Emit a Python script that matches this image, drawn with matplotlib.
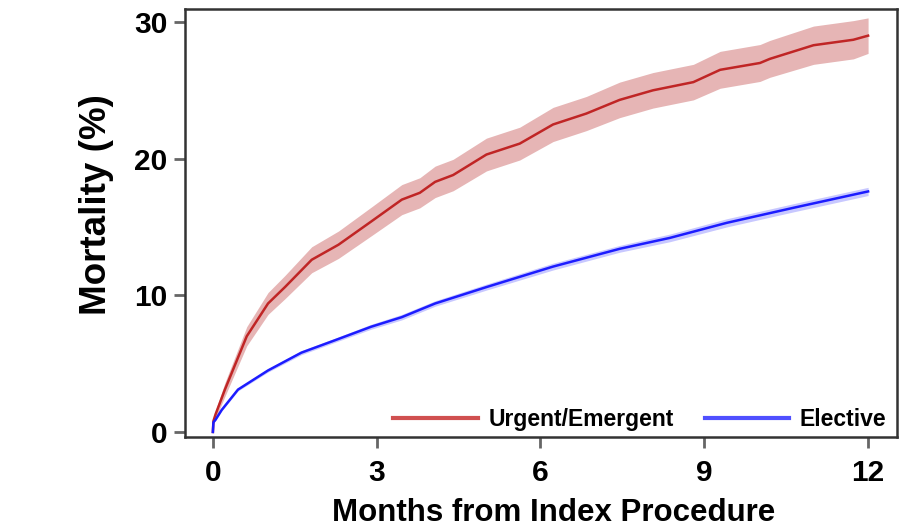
import matplotlib
matplotlib.use("Agg")
import matplotlib.pyplot as plt
import numpy as np

plt.rcParams['font.family'] = ['Liberation Sans', 'DejaVu Sans']
plt.rcParams['font.weight'] = 'bold'

# Data
months_u = [0, 0.01, 0.05, 0.22, 0.62, 1.01, 1.32, 1.81, 2.30, 2.90, 3.46, 3.79, 4.07, 4.40, 5.01,
            5.62, 6.23, 6.84, 7.45, 8.06, 8.80, 9.29, 10.02, 10.2, 11.0, 11.73, 12.0]
urgent = [0.0, 0.8, 1.3, 3.1, 7.0, 9.4, 10.6, 12.6, 13.7, 15.4, 17.0, 17.5, 18.3, 18.8, 20.3,
          21.1, 22.5, 23.3, 24.3, 25.0, 25.6, 26.5, 27.0, 27.3, 28.3, 28.7, 29.0]
urgent_hw = [0.0, 0.2, 0.3, 0.5, 0.7, 0.8, 0.85, 0.95, 1.0, 1.05, 1.1, 1.1, 1.15, 1.15, 1.2,
             1.2, 1.25, 1.25, 1.3, 1.3, 1.3, 1.35, 1.35, 1.35, 1.4, 1.4, 1.3]

months_e = [0, 0.01, 0.05, 0.16, 0.46, 1.01, 1.62, 2.23, 2.90, 3.46, 4.07, 5.01, 6.23, 7.45,
            8.37, 9.41, 10.63, 12.0]
elective = [0.0, 0.7, 0.9, 1.6, 3.1, 4.5, 5.8, 6.7, 7.7, 8.4, 9.4, 10.6, 12.1, 13.4,
            14.2, 15.3, 16.4, 17.6]
elective_hw = [0.0, 0.03, 0.05, 0.08, 0.1, 0.12, 0.15, 0.15, 0.18, 0.2, 0.2, 0.22, 0.25, 0.25,
               0.28, 0.3, 0.3, 0.3]

x_ticks = [0, 3, 6, 9, 12]
y_ticks = [0, 10, 20, 30]

fig = plt.figure(figsize=(9, 5.3), dpi=100)
ax = fig.add_axes([0.2056, 0.1755, 0.7911, 0.8075])

mu = np.array(months_u); u = np.array(urgent); uh = np.array(urgent_hw)
me = np.array(months_e); e = np.array(elective); eh = np.array(elective_hw)

ax.fill_between(mu, u - uh, u + uh, color='#e6b5b5', lw=0)
ax.fill_between(me, e - eh, e + eh, color='#c8c8ff', lw=0)
ax.plot(mu, u, color='#c02525', lw=1.8, label='Urgent/Emergent')
ax.plot(me, e, color='#1c1cff', lw=1.8, label='Elective')

ax.set_xlim(-0.51, 12.53)
ax.set_ylim(-0.37, 30.95)
ax.set_xticks(x_ticks)
ax.set_yticks(y_ticks)
ax.tick_params(axis='both', direction='out', length=8, width=2, color='#666666',
               labelsize=21.5)
ax.tick_params(axis='x', pad=8)
ax.tick_params(axis='y', pad=4.5)
for lab in ax.get_xticklabels() + ax.get_yticklabels():
    lab.set_fontweight('bold')
for s in ax.spines.values():
    s.set_linewidth(1.8)
    s.set_color('#333333')

ax.set_xlabel('Months from Index Procedure', fontsize=22.5, fontweight='bold')
ax.xaxis.set_label_coords(0.518, -0.142)
ax.set_ylabel('Mortality (%)', fontsize=26.5, fontweight='bold')
ax.yaxis.set_label_coords(-0.10, 0.544)

handles = [plt.Line2D([], [], color='#d05050', lw=3),
           plt.Line2D([], [], color='#5050ff', lw=3)]
leg = ax.legend(handles, ['Urgent/Emergent', 'Elective'], loc='lower right', ncol=2,
                frameon=False, prop={'size': 16.5, 'weight': 'bold'},
                handlelength=3.7, handletextpad=0.45, columnspacing=1.35,
                borderaxespad=0, borderpad=0,
                bbox_to_anchor=(0.985, 0.013))

fig.savefig('out.png', dpi=100)
